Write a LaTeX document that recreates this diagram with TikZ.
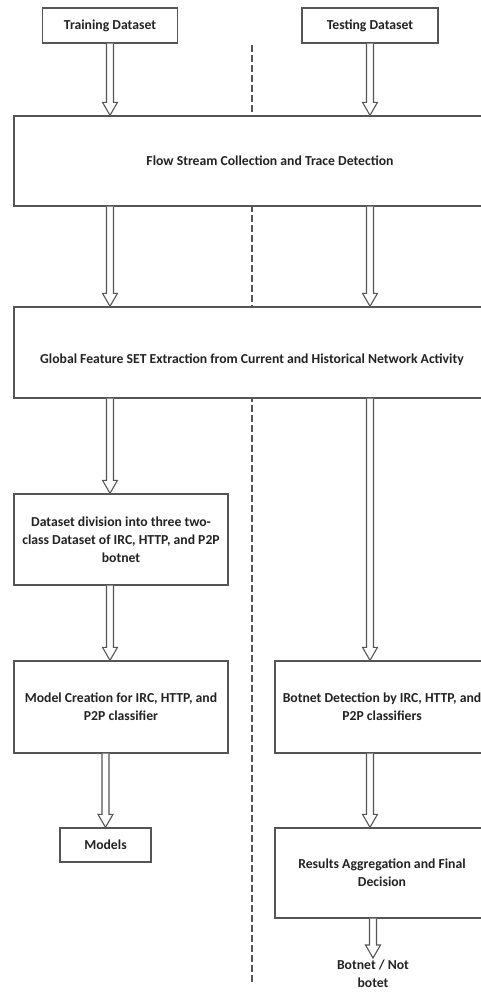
\documentclass[tikz,border=0pt]{standalone}
\usepackage{fontspec}
\setmainfont{Carlito}
\usetikzlibrary{calc}

\definecolor{edgegray}{RGB}{85,85,85}
\definecolor{inkgray}{RGB}{35,35,35}

\tikzset{
  stagebox/.style={draw=edgegray, line width=1.4pt, fill=white, align=center, inner sep=0pt,
    font=\bfseries\fontsize{13.7}{18}\selectfont, text=inkgray},
  hollowarrow/.style={draw=edgegray, line width=1.1pt, fill=white,
    to path={let \p1=(\tikztostart), \p2=(\tikztotarget) in
      (\x1-3.5pt,\y1) -- (\x1-3.5pt,\y2-13pt) -- (\x1-7.5pt,\y2-13pt) -- (\x1,\y2)
      -- (\x1+7.5pt,\y2-13pt) -- (\x1+3.5pt,\y2-13pt) -- (\x1+3.5pt,\y1)}},
  splitline/.style={draw=edgegray, line width=1.1pt, dash pattern=on 6.5pt off 3.5pt},
}

\begin{document}
\begin{tikzpicture}[x=1pt,y=1pt,yscale=-1,xscale=1]
  \useasboundingbox (0,0) rectangle (481,993);
  \clip (0,0) rectangle (481,993);

  %Straight Lines: dashed divider
  \coordinate (divtop) at (252,45);
  \coordinate (divbot) at (252,982);
  \draw [splitline] (divtop) -- (divbot);

  %Shape: Rectangle (inputs)
  \node [stagebox, minimum width=135, minimum height=35] (train) at (110,25.5) {Training Dataset};
  \node [stagebox, minimum width=136, minimum height=35] (test) at (370,25.5) {Testing Dataset};

  %Shape: Rectangle (shared stages)
  \node [stagebox, minimum width=512, minimum height=90] (flow) at (270,161) {Flow Stream Collection and Trace Detection};
  \node [stagebox, minimum width=476, minimum height=91, text height=24pt] (global) at (252,352.5) {Global Feature SET Extraction from Current and Historical Network Activity};

  %Shape: Rectangle (training side)
  \node [stagebox, minimum width=214, minimum height=91] (split) at (121,539.5) {Dataset division into three two-\\class Dataset of IRC, HTTP, and P2P\\botnet};
  \node [stagebox, minimum width=214, minimum height=92] (model) at (121,707) {Model Creation for IRC, HTTP, and\\P2P classifier};
  \node [stagebox, minimum width=91, minimum height=34] (models) at (105.5,845) {Models};

  %Shape: Rectangle (testing side)
  \node [stagebox, minimum width=214, minimum height=92] (detect) at (382,707) {Botnet Detection by IRC, HTTP, and\\P2P classifiers};
  \node [stagebox, minimum width=214, minimum height=90] (results) at (382,873) {Results Aggregation and Final\\Decision};

  % Text Node
  \node [stagebox, draw=none, fill=none, anchor=north, inner sep=1pt] (verdict) at (373,958) {Botnet / Not\\botet};

  %Hollow Arrows
  \draw [hollowarrow] (train.south) to (train.south |- flow.north);
  \draw [hollowarrow] (test.south) to (test.south |- flow.north);
  \draw [hollowarrow] (flow.south -| train.south) to (global.north -| train.south);
  \draw [hollowarrow] (flow.south -| test.south) to (global.north -| test.south);
  \draw [hollowarrow] (global.south -| train.south) to (split.north -| train.south);
  \draw [hollowarrow] (split.south -| train.south) to (model.north -| train.south);
  \draw [hollowarrow] (model.south -| models.north) to (models.north);
  \draw [hollowarrow] (global.south -| test.south) to (detect.north -| test.south);
  \draw [hollowarrow] (detect.south -| test.south) to (results.north -| test.south);
  \draw [hollowarrow] (results.south -| verdict.north) to (verdict.north);

\end{tikzpicture}
\end{document}
